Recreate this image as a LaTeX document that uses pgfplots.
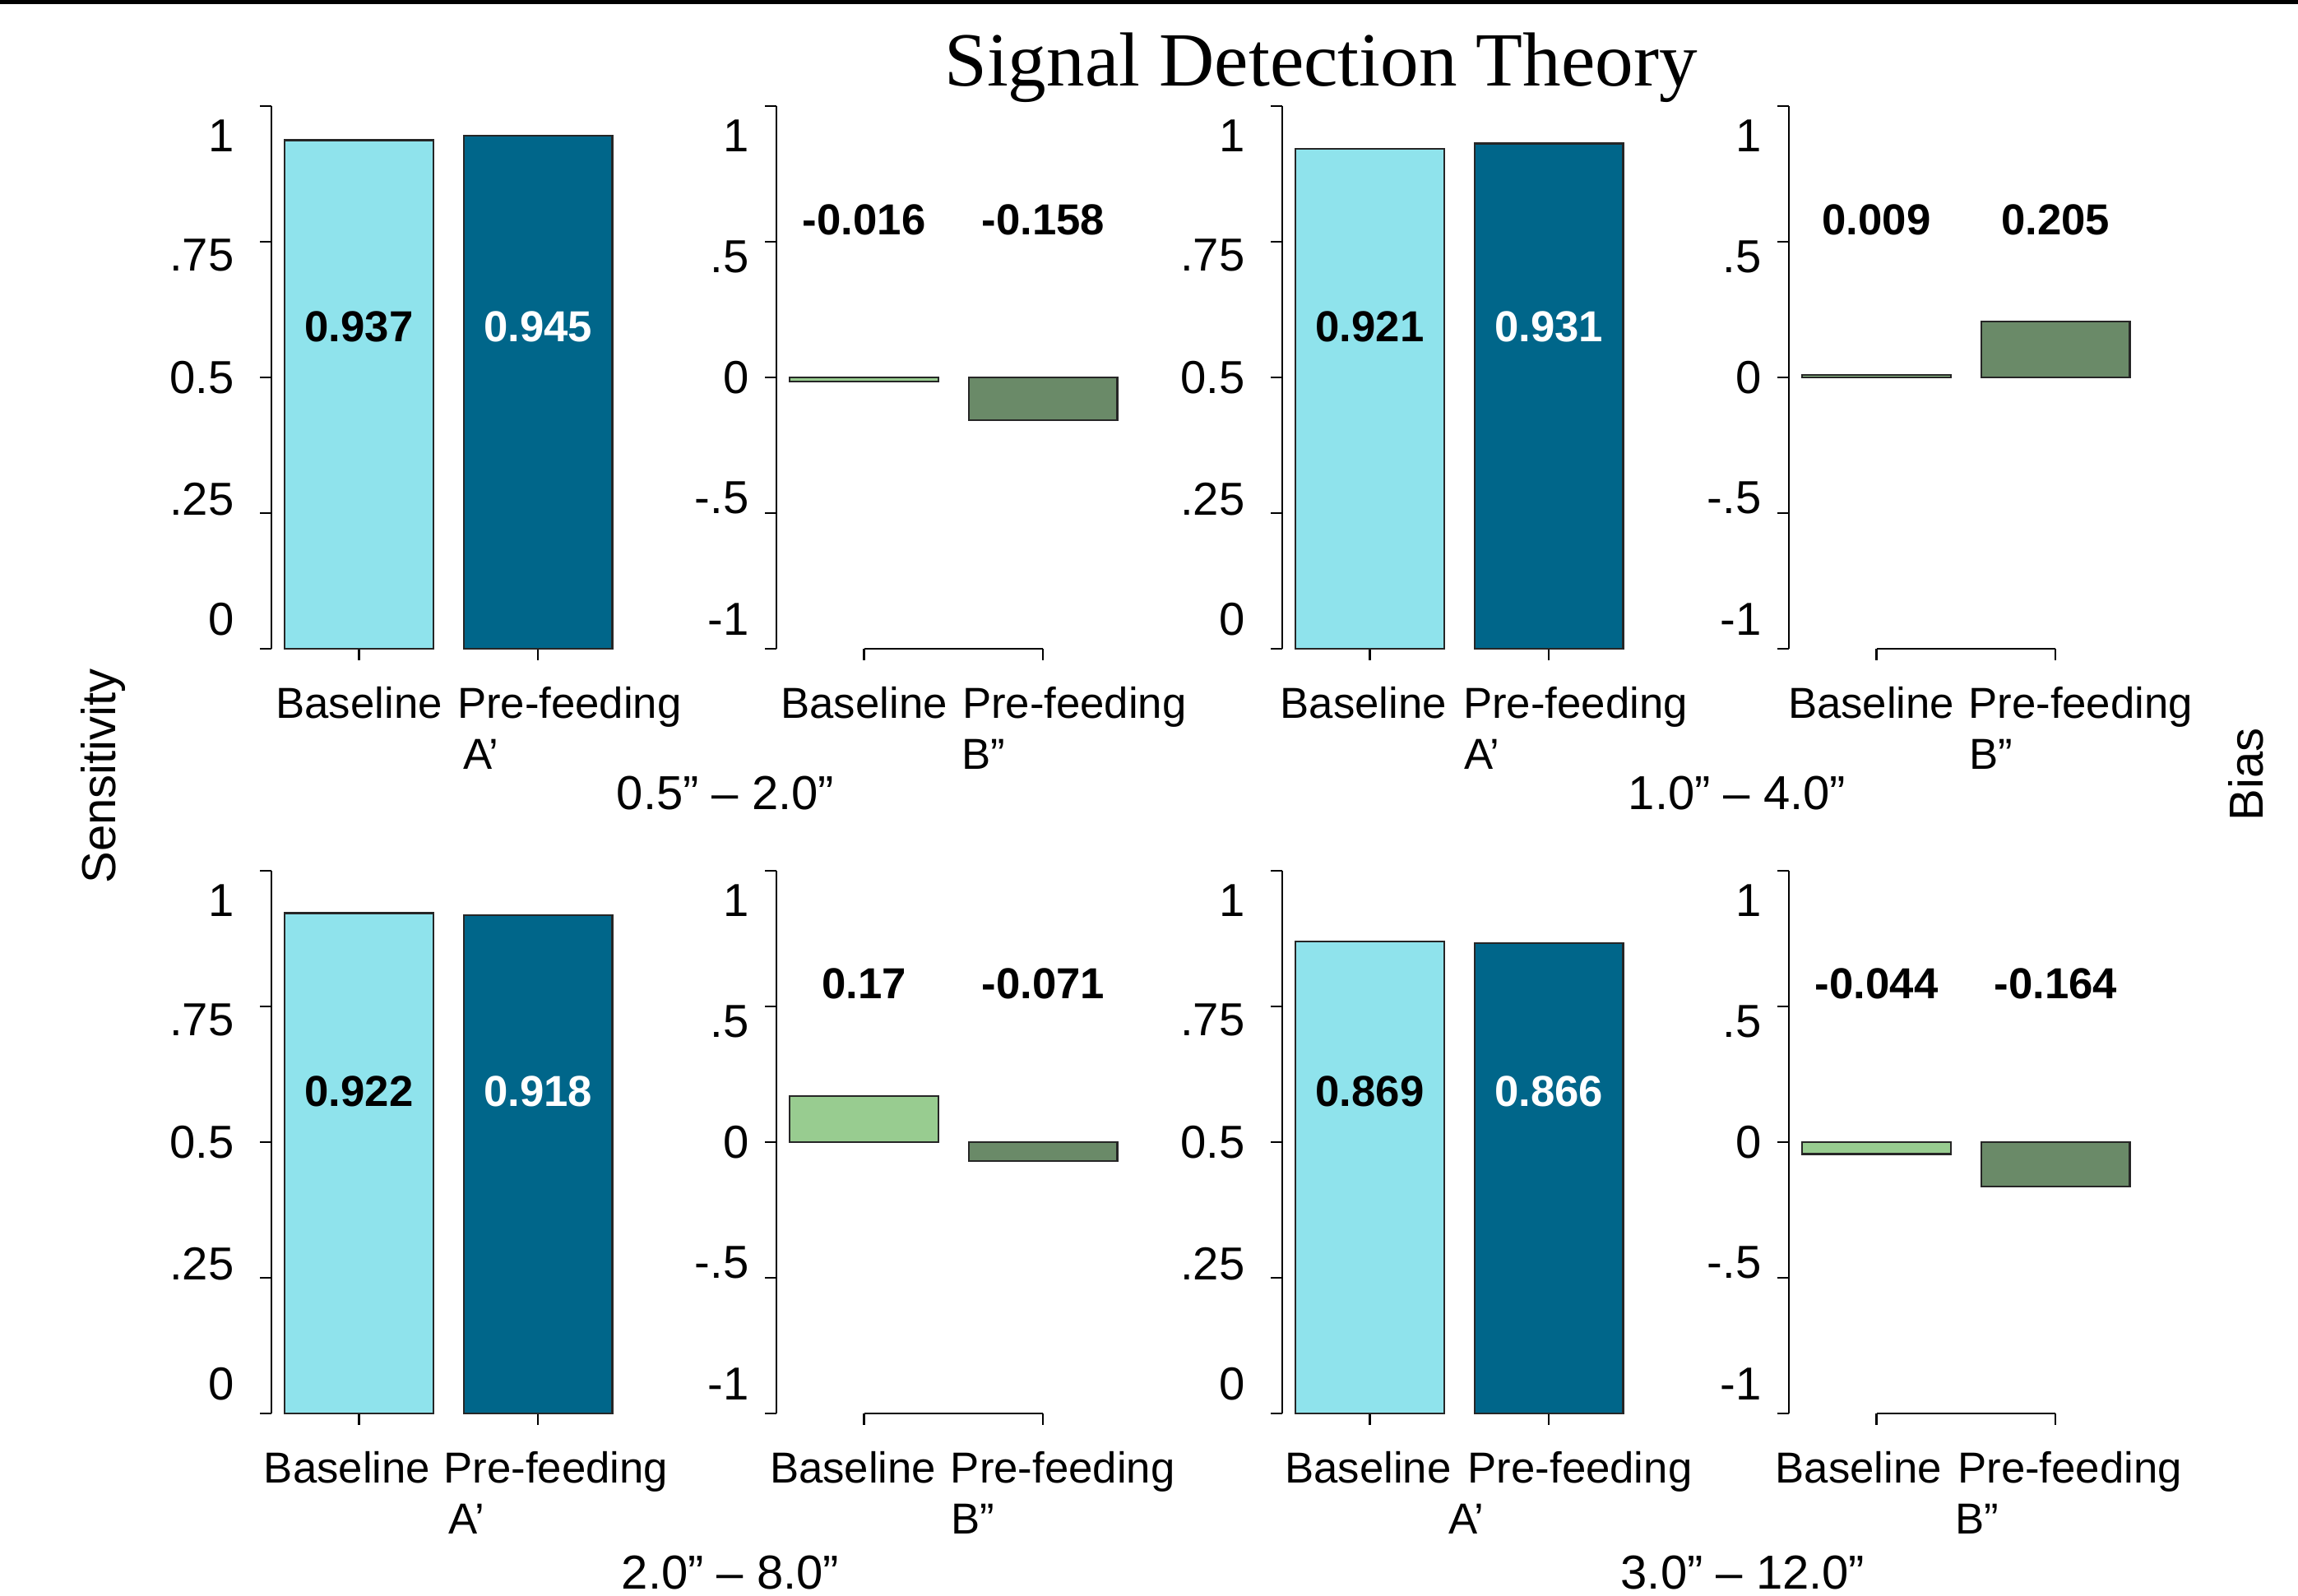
\documentclass[border=0pt]{standalone}
\usepackage{fontspec}
\setmainfont{Liberation Sans}
\newfontfamily\titlefont{Liberation Serif}
\usepackage{pgfplots}
\pgfplotsset{compat=1.18}

\definecolor{sbase}{HTML}{8FE3EC}
\definecolor{spre}{HTML}{00668A}
\definecolor{bbase}{HTML}{98CC90}
\definecolor{bpre}{HTML}{6A8A68}

\newcommand\tickfont{\fontsize{16}{19}\selectfont}
\newcommand\catfont{\fontsize{15}{18}\selectfont}
\newcommand\valfont{\fontsize{15}{18}\selectfont\bfseries}
\newcommand\grpfont{\fontsize{16.5}{20}\selectfont}

\pgfplotsset{
  panel/.style={
    scale only axis, width=4.33cm, height=6.6cm, anchor=south west,
    xmin=-0.49, xmax=1.5, clip=false,
    axis lines*=left, axis line style={-, line width=0.7pt},
    x axis line style={draw=none},
    tick align=outside, major tick length=0.14cm,
    tick style={black, line width=0.7pt},
    xtick={0,1}, xticklabels={},
    extra x tick labels={Baseline,Pre-feeding},
    extra x tick style={major tick length=0pt,
      xticklabel style={anchor=base, yshift=-0.85cm, font=\catfont}},
    xlabel style={anchor=base, yshift=-1.47cm, font=\catfont},
  },
  sens/.style={panel, ymin=0, ymax=1,
    ytick={0,0.25,0.5,0.75,1}, yticklabels={},
    extra y ticks={0.055,0.275,0.5,0.725,0.945},
    extra y tick labels={0,.25,0.5,.75,1},
    extra y tick style={major tick length=0pt,
      yticklabel style={anchor=east, inner sep=0pt, xshift=-0.45cm, font=\tickfont}},
    xlabel={A’}},
  bias/.style={panel, ymin=-1, ymax=1,
    ytick={-1,-0.5,0,0.5,1}, yticklabels={},
    extra y ticks={-0.89,-0.445,0,0.445,0.89},
    extra y tick labels={-1,-.5,0,.5,1},
    extra y tick style={major tick length=0pt,
      yticklabel style={anchor=east, inner sep=0pt, xshift=-0.33cm, font=\tickfont}},
    xlabel={B”}},
  bbar/.style={ybar, bar width=0.83, bar shift=0pt, draw=black!85, line width=0.6pt},
}

\begin{document}
\begin{tikzpicture}
\useasboundingbox (0,0) rectangle (27.94,19.41);
\draw[line width=0.05cm] (0,19.385) -- (27.94,19.385);
\node[anchor=base, font=\titlefont\fontsize{26.5}{30}\selectfont] at (16.06,18.36) {Signal Detection Theory};
\node[rotate=90, font=\grpfont] at (1.26,9.97) {Sensitivity};
\node[rotate=90, font=\grpfont] at (27.31,9.99) {Bias};

% 0.5" - 2.0"
\begin{axis}[sens, at={(3.30cm,11.52cm)}, extra x ticks={0,1.175},
  xlabel style={at={(axis description cs:0.589,0)}}]
\addplot[bbar, fill=sbase] coordinates {(0,0.937)};
\addplot[bbar, fill=spre] coordinates {(1,0.945)};
\node[font=\valfont] at (axis cs:0,0.594) {0.937};
\node[font=\valfont, white] at (axis cs:1,0.594) {0.945};
\end{axis}
\begin{axis}[bias, at={(9.44cm,11.52cm)}, extra x ticks={0,1.175},
  xlabel style={at={(axis description cs:0.581,0)}}]
\addplot[bbar, fill=bbase] coordinates {(0,-0.016)};
\addplot[bbar, fill=bpre] coordinates {(1,-0.158)};
\draw[line width=0.7pt] (axis cs:0,-1) -- (axis cs:1,-1);
\node[font=\valfont] at (axis cs:0,0.58) {-0.016};
\node[font=\valfont] at (axis cs:1,0.58) {-0.158};
\end{axis}

% 1.0" - 4.0"
\begin{axis}[sens, at={(15.59cm,11.52cm)}, extra x ticks={-0.036,1.148},
  xlabel style={at={(axis description cs:0.561,0)}}]
\addplot[bbar, fill=sbase] coordinates {(0,0.921)};
\addplot[bbar, fill=spre] coordinates {(1,0.931)};
\node[font=\valfont] at (axis cs:0,0.594) {0.921};
\node[font=\valfont, white] at (axis cs:1,0.594) {0.931};
\end{axis}
\begin{axis}[bias, at={(21.75cm,11.52cm)}, extra x ticks={-0.03,1.14},
  xlabel style={at={(axis description cs:0.568,0)}}]
\addplot[bbar, fill=bbase] coordinates {(0,0.009)};
\addplot[bbar, fill=bpre] coordinates {(1,0.205)};
\draw[line width=0.7pt] (axis cs:0,-1) -- (axis cs:1,-1);
\node[font=\valfont] at (axis cs:0,0.58) {0.009};
\node[font=\valfont] at (axis cs:1,0.58) {0.205};
\end{axis}

% 2.0" - 8.0"
\begin{axis}[sens, at={(3.30cm,2.22cm)}, extra x ticks={-0.067,1.10},
  xlabel style={at={(axis description cs:0.548,0)}}]
\addplot[bbar, fill=sbase] coordinates {(0,0.922)};
\addplot[bbar, fill=spre] coordinates {(1,0.918)};
\node[font=\valfont] at (axis cs:0,0.594) {0.922};
\node[font=\valfont, white] at (axis cs:1,0.594) {0.918};
\end{axis}
\begin{axis}[bias, at={(9.44cm,2.22cm)}, extra x ticks={-0.062,1.11},
  xlabel style={at={(axis description cs:0.551,0)}}]
\addplot[bbar, fill=bbase] coordinates {(0,0.17)};
\addplot[bbar, fill=bpre] coordinates {(1,-0.071)};
\draw[line width=0.7pt] (axis cs:0,-1) -- (axis cs:1,-1);
\node[font=\valfont] at (axis cs:0,0.585) {0.17};
\node[font=\valfont] at (axis cs:1,0.585) {-0.071};
\end{axis}

% 3.0" - 12.0"
\begin{axis}[sens, at={(15.59cm,2.22cm)}, extra x ticks={-0.01,1.174},
  xlabel style={at={(axis description cs:0.517,0)}}]
\addplot[bbar, fill=sbase] coordinates {(0,0.869)};
\addplot[bbar, fill=spre] coordinates {(1,0.866)};
\node[font=\valfont] at (axis cs:0,0.594) {0.869};
\node[font=\valfont, white] at (axis cs:1,0.594) {0.866};
\end{axis}
\begin{axis}[bias, at={(21.75cm,2.22cm)}, extra x ticks={-0.1,1.08},
  xlabel style={at={(axis description cs:0.528,0)}}]
\addplot[bbar, fill=bbase] coordinates {(0,-0.044)};
\addplot[bbar, fill=bpre] coordinates {(1,-0.164)};
\draw[line width=0.7pt] (axis cs:0,-1) -- (axis cs:1,-1);
\node[font=\valfont] at (axis cs:0,0.585) {-0.044};
\node[font=\valfont] at (axis cs:1,0.585) {-0.164};
\end{axis}

\node[anchor=base, font=\grpfont] at (8.82,9.56) {0.5” – 2.0”};
\node[anchor=base, font=\grpfont] at (21.12,9.56) {1.0” – 4.0”};
\node[anchor=base, font=\grpfont] at (8.88,0.08) {2.0” – 8.0”};
\node[anchor=base, font=\grpfont] at (21.19,0.08) {3.0” – 12.0”};
\end{tikzpicture}
\end{document}
